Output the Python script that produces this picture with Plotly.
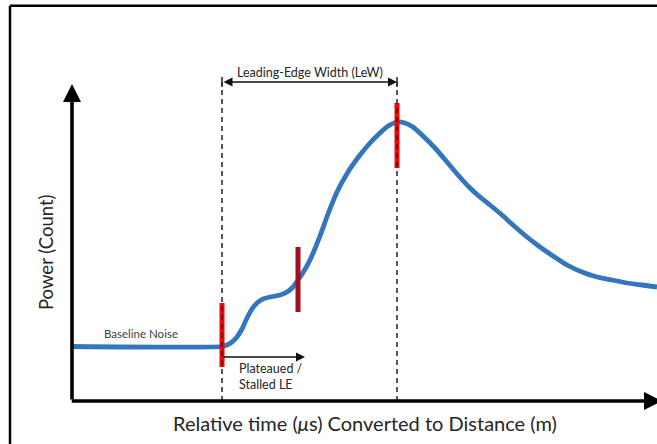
import plotly.graph_objects as go

# ---- data (time units, power counts) ----
time = [0, 30, 31, 32, 33, 34, 35, 36, 37, 38.2, 39.6, 41.6, 43, 44.2, 45.2, 46.4, 47.6,
        49.6, 51.2, 53, 55.2, 57.6, 59.6, 61.6, 63.2, 65, 66.6, 68.2, 70.2, 72.6, 75,
        77.2, 79.6, 81.6, 83.6, 86, 88.2, 91, 93.6, 96.2, 99, 102, 105, 108, 111, 114, 117]
power = [21.8, 21.8, 22.4, 23.6, 25.6, 28.8, 33.2, 36.8, 39.2, 40.8, 41.6, 42.4, 43.6, 45.6,
         48.4, 52, 56.4, 66, 74.8, 83.6, 91.6, 98.4, 103.2, 107.2, 110, 111.6, 111.2, 109.6,
         106, 101.2, 95.6, 90.4, 85.2, 81.6, 78.4, 74.4, 70.4, 65.6, 61.6, 58, 54.4, 51.6,
         49.6, 48.4, 47.2, 46.4, 45.6]

event_time = [30, 45.2, 65]          # LE start, stall, peak
event_low = [13.6, 35.6, 93.2]
event_high = [39.2, 61.6, 119.2]
event_color = ["#FF0000", "#A0101C", "#FF0000"]

lew_start, lew_end = 30, 65
stall_end = 46.6

FONT = "Lato, 'Open Sans', sans-serif"

fig = go.Figure()
fig.add_trace(go.Scatter(x=time, y=power, mode="lines",
                         line=dict(color="#3476BE", width=4.8, shape="spline", smoothing=0.6),
                         hoverinfo="skip", showlegend=False))

shapes = []
# red marker bars
for t, lo, hi, c in zip(event_time, event_low, event_high, event_color):
    shapes.append(dict(type="line", xref="x", yref="y", x0=t, x1=t, y0=lo, y1=hi,
                       line=dict(color=c, width=5), layer="above"))
# dashed guide lines
for t in (lew_start, lew_end):
    shapes.append(dict(type="line", xref="x", yref="y", x0=t, x1=t, y0=0, y1=127.6,
                       line=dict(color="#222222", width=1.5, dash="5px,4px"), layer="above"))
    shapes.append(dict(type="line", xref="x", yref="y", x0=t, x1=t, y0=125.6, y1=129.6,
                       line=dict(color="#222222", width=1.5), layer="above"))
# frame
fx, fy = 10/657, 1 - 5.7/444
shapes.append(dict(type="line", xref="paper", yref="paper", x0=fx, x1=1, y0=fy, y1=fy,
                   line=dict(color="black", width=2.5)))
shapes.append(dict(type="line", xref="paper", yref="paper", x0=fx, x1=fx, y0=0, y1=fy,
                   line=dict(color="black", width=2.5)))

annotations = []
# axes arrows
annotations.append(dict(x=0, y=126.8, ax=0, ay=0, xref="x", yref="y", axref="x", ayref="y",
                        text="", showarrow=True, arrowhead=2, arrowsize=1.0, arrowwidth=3.6,
                        arrowcolor="black"))
annotations.append(dict(x=118, y=0, ax=-0.35, ay=0, xref="x", yref="y", axref="x", ayref="y",
                        text="", showarrow=True, arrowhead=2, arrowsize=1.0, arrowwidth=3.6,
                        arrowcolor="black"))
# LeW arrow
annotations.append(dict(x=lew_end, y=127.6, ax=lew_start, ay=127.6, xref="x", yref="y",
                        axref="x", ayref="y", text="", showarrow=True, arrowhead=2,
                        startarrowhead=2, arrowside="end+start", arrowsize=1.2, arrowwidth=1.5,
                        startarrowsize=1.2, arrowcolor="#111111"))
# plateau arrow
annotations.append(dict(x=stall_end, y=17.6, ax=lew_start, ay=17.6, xref="x", yref="y",
                        axref="x", ayref="y", text="", showarrow=True, arrowhead=2,
                        arrowsize=1.2, arrowwidth=1.5, arrowcolor="#111111"))
# texts
annotations.append(dict(x=(lew_start + lew_end) / 2, y=131.6, xref="x", yref="y",
                        text="Leading-Edge Width (LeW)", showarrow=False,
                        font=dict(family=FONT, size=12.5, color="#262626")))
annotations.append(dict(x=13.8, y=27.2, xref="x", yref="y", text="Baseline Noise",
                        showarrow=False, font=dict(family=FONT, size=11.5, color="#404040")))
annotations.append(dict(x=33, y=9.8, xref="x", yref="y", text="Plateaued /<br>Stalled LE",
                        showarrow=False, xanchor="left", yanchor="middle", align="left",
                        font=dict(family=FONT, size=12.5, color="#262626")))
annotations.append(dict(x=-5.2, y=59.6, xref="x", yref="y", text="Power (Count)",
                        textangle=-90, showarrow=False,
                        font=dict(family=FONT, size=18.5, color="#262626")))
annotations.append(dict(x=58.6, y=-8.8, xref="x", yref="y",
                        text="Relative time (<i>μ</i>s) Converted to Distance (m)",
                        showarrow=False, font=dict(family=FONT, size=20, color="#262626")))

fig.update_layout(
    width=657, height=444, margin=dict(l=0, r=0, t=0, b=0),
    paper_bgcolor="white", plot_bgcolor="white",
    xaxis=dict(range=[-14.4, 117], visible=False, fixedrange=True),
    yaxis=dict(range=[-17.2, 160.4], visible=False, fixedrange=True),
    shapes=shapes, annotations=annotations, showlegend=False,
)

fig.write_html("out.html", config={"displayModeBar": False},
               post_script="document.body.style.margin='0';document.body.style.overflow='hidden';")
